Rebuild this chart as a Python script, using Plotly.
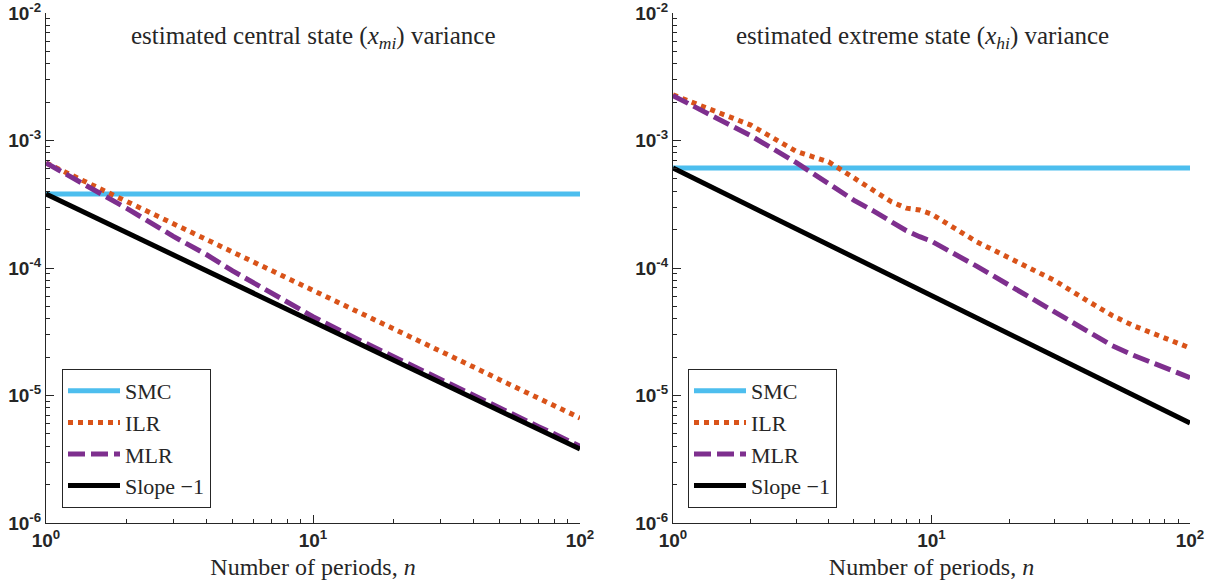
import plotly.graph_objects as go

# ---------------- data ----------------
n_vals = [1, 2, 3, 4, 5, 6, 7, 8, 9, 10, 15, 20, 30, 40, 50, 60, 70, 80, 90, 100]
n_ends = [1, 100]

# left panel: central state
smc_central = [3.8e-4, 3.8e-4]
slope_central = [3.8e-4, 3.8e-6]
ilr_central = [6.67e-4, 3.35e-4, 2.22e-4, 1.67e-4, 1.33e-4, 1.11e-4, 9.5e-5, 8.3e-5,
               7.4e-5, 6.67e-5, 4.45e-5, 3.34e-5, 2.22e-5, 1.67e-5, 1.33e-5, 1.11e-5,
               9.5e-6, 8.3e-6, 7.4e-6, 6.67e-6]
mlr_central = [6.67e-4, 2.95e-4, 1.77e-4, 1.27e-4, 9.5e-5, 7.6e-5, 6.35e-5, 5.4e-5,
               4.7e-5, 4.15e-5, 2.7e-5, 2.01e-5, 1.34e-5, 1.0e-5, 8.0e-6, 6.65e-6,
               5.7e-6, 5.0e-6, 4.45e-6, 4.0e-6]

# right panel: extreme state
smc_extreme = [6.08e-4, 6.08e-4]
slope_extreme = [6.08e-4, 6.08e-6]
ilr_extreme = [2.28e-3, 1.32e-3, 8.2e-4, 6.8e-4, 5.1e-4, 4.05e-4, 3.3e-4, 2.95e-4,
               2.85e-4, 2.65e-4, 1.6e-4, 1.2e-4, 7.95e-5, 5.55e-5, 4.24e-5, 3.55e-5,
               3.14e-5, 2.8e-5, 2.55e-5, 2.36e-5]
mlr_extreme = [2.25e-3, 1.09e-3, 6.7e-4, 4.53e-4, 3.41e-4, 2.78e-4, 2.28e-4, 1.96e-4,
               1.76e-4, 1.62e-4, 1.03e-4, 7.3e-5, 4.46e-5, 3.13e-5, 2.46e-5, 2.08e-5,
               1.83e-5, 1.65e-5, 1.5e-5, 1.38e-5]

panel_titles = ["estimated central state (<i>x</i><sub><i>mi</i></sub>) variance",
                "estimated extreme state (<i>x</i><sub><i>hi</i></sub>) variance"]
series_names = ["SMC", "ILR", "MLR", "Slope \u22121"]
x_tickvals = [1, 10, 100]
x_ticktext = ["<b>10<sup>0</sup></b>", "<b>10<sup>1</sup></b>", "<b>10<sup>2</sup></b>"]
y_tickvals = [1e-6, 1e-5, 1e-4, 1e-3, 1e-2]
y_ticktext = ["<b>10<sup>-6</sup></b>", "<b>10<sup>-5</sup></b>", "<b>10<sup>-4</sup></b>",
              "<b>10<sup>-3</sup></b>", "<b>10<sup>-2</sup></b>"]
x_title = "Number of periods, <i>n</i>"

# minor tick positions (2..9 within each decade)
x_minor = [k * 10 ** e for e in range(0, 2) for k in range(2, 10)]
y_minor = [k * 10.0 ** e for e in range(-6, -2) for k in range(2, 10)]

# ---------------- styles ----------------
C_SMC = "#4DBEEE"
C_ILR = "#D95319"
C_MLR = "#7E2F8E"
C_BLK = "#000000"
AX = "#262626"
LW = 5

W, H = 1216, 585
fig = go.Figure()

panels = [
    dict(xa="x", ya="y", legend="legend",
         smc=smc_central, ilr=ilr_central, mlr=mlr_central, slope=slope_central),
    dict(xa="x2", ya="y2", legend="legend2",
         smc=smc_extreme, ilr=ilr_extreme, mlr=mlr_extreme, slope=slope_extreme),
]

for p in panels:
    fig.add_trace(go.Scatter(x=n_ends, y=p["smc"], mode="lines", name=series_names[0],
                             line=dict(color=C_SMC, width=LW), xaxis=p["xa"], yaxis=p["ya"],
                             legend=p["legend"]))
    fig.add_trace(go.Scatter(x=n_vals, y=p["ilr"], mode="lines", name=series_names[1],
                             line=dict(color=C_ILR, width=LW, dash="5px,5px"),
                             xaxis=p["xa"], yaxis=p["ya"], legend=p["legend"]))
    fig.add_trace(go.Scatter(x=n_vals, y=p["mlr"], mode="lines", name=series_names[2],
                             line=dict(color=C_MLR, width=LW, dash="17px,6px"),
                             xaxis=p["xa"], yaxis=p["ya"], legend=p["legend"]))
    fig.add_trace(go.Scatter(x=n_ends, y=p["slope"], mode="lines", name=series_names[3],
                             line=dict(color=C_BLK, width=LW),
                             xaxis=p["xa"], yaxis=p["ya"], legend=p["legend"]))

x_dom1 = [46 / W, 580 / W]
x_dom2 = [673 / W, 1190 / W]
y_dom = [1 - 523 / H, 1 - 13 / H]

axis_common = dict(type="log", showgrid=False, zeroline=False, showline=True,
                   linecolor=AX, linewidth=1, ticks="inside", ticklen=8,
                   tickcolor=AX, tickwidth=1, mirror=False, automargin=False,
                   ticklabeloverflow="allow",
                   tickfont=dict(family="Liberation Sans", size=19, color=AX))

xaxis_kw = dict(axis_common, range=[0, 2], tickvals=x_tickvals, ticktext=x_ticktext,
                minor=dict(tickmode="array", tickvals=x_minor, ticks="inside", ticklen=4,
                           tickcolor=AX, showgrid=False),
                title=dict(text=x_title, font=dict(family="Liberation Serif", size=24,
                                                   color=AX), standoff=8))
yaxis_kw = dict(axis_common, range=[-6, -2], tickvals=y_tickvals, ticktext=y_ticktext,
                minor=dict(tickmode="array", tickvals=y_minor, ticks="inside", ticklen=4,
                           tickcolor=AX, showgrid=False))

legend_common = dict(xanchor="left", yanchor="bottom", bgcolor="white",
                     bordercolor=AX, borderwidth=1,
                     font=dict(family="Liberation Serif", size=22, color=AX),
                     itemwidth=52, tracegroupgap=0)

fig.update_layout(
    width=W, height=H,
    margin=dict(l=0, r=0, t=0, b=0, autoexpand=False),
    paper_bgcolor="white", plot_bgcolor="white",
    xaxis=dict(xaxis_kw, domain=x_dom1, anchor="y"),
    yaxis=dict(yaxis_kw, domain=y_dom, anchor="x"),
    xaxis2=dict(xaxis_kw, domain=x_dom2, anchor="y2"),
    yaxis2=dict(yaxis_kw, domain=y_dom, anchor="x2"),
    legend=dict(legend_common, x=62 / W, y=1 - 508 / H),
    legend2=dict(legend_common, x=688 / W, y=1 - 508 / H),
    showlegend=True,
    annotations=[
        dict(text=panel_titles[0], x=313 / W, y=1 - 38 / H, xref="paper", yref="paper",
             showarrow=False, xanchor="center", yanchor="middle",
             font=dict(family="Liberation Serif", size=25, color=AX)),
        dict(text=panel_titles[1], x=922 / W, y=1 - 38 / H, xref="paper", yref="paper",
             showarrow=False, xanchor="center", yanchor="middle",
             font=dict(family="Liberation Serif", size=25, color=AX)),
    ],
)

fig.write_html("out.html", config={"displayModeBar": False})

# remove the default page margin so the figure sits at the window's origin
with open("out.html", "r", encoding="utf-8") as f:
    html = f.read()
html = html.replace("<head>", "<head><style>html,body{margin:0;padding:0;overflow:hidden;}</style>", 1)
with open("out.html", "w", encoding="utf-8") as f:
    f.write(html)
